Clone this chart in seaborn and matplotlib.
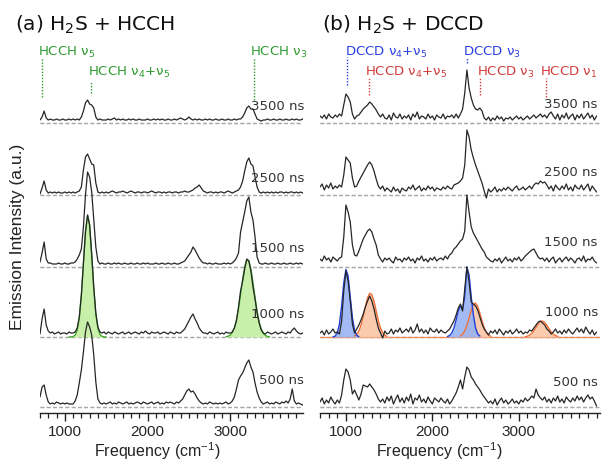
import numpy as np
import pandas as pd
import matplotlib
matplotlib.use("Agg")
import matplotlib.pyplot as plt
from matplotlib.ticker import MultipleLocator
import seaborn as sns

# ---------------- data ----------------
FREQ = np.arange(700, 3901, 25)          # frequency grid (cm-1), 129 points
DELAYS = ["500 ns", "1000 ns", "1500 ns", "2500 ns", "3500 ns"]

# (a) H2S + HCCH
A500 = [10, 20, 22, 12, 5, 3, 4, 3,
        5, 4, 3, 4, 3, 4, 3, 3,
        3, 6, 12, 24, 37, 55, 75, 85,
        80, 72, 52, 25, 8, 4, 3, 4,
        3, 4, 5, 3, 4, 3, 5, 4,
        3, 4, 5, 3, 4, 3, 4, 5,
        4, 3, 5, 4, 3, 4, 5, 3,
        4, 5, 3, 4, 3, 5, 4, 5,
        4, 3, 5, 4, 6, 8, 12, 16,
        18, 15, 16, 13, 9, 6, 4, 3,
        4, 3, 5, 4, 3, 4, 3, 4,
        3, 4, 5, 3, 4, 6, 10, 18,
        27, 31, 34, 39, 44, 47, 40, 35,
        24, 15, 9, 5, 3, 4, 5, 3,
        4, 3, 5, 4, 3, 5, 4, 6,
        4, 8, 18, 6, 3, 4, 3, 2,
        2]
A1000 = [3, 18, 28, 12, 6, 4, 5, 3,
         4, 5, 3, 4, 4, 3, 5, 4,
         4, 5, 9, 20, 42, 74, 105, 122,
         112, 83, 50, 24, 10, 5, 4, 5,
         3, 5, 4, 3, 5, 4, 3, 4,
         5, 3, 4, 5, 3, 4, 5, 4,
         3, 5, 4, 6, 4, 3, 5, 4,
         4, 5, 3, 4, 5, 4, 3, 5,
         4, 3, 5, 4, 4, 6, 8, 12,
         16, 20, 23, 18, 14, 9, 6, 4,
         4, 3, 5, 4, 3, 4, 5, 3,
         4, 3, 5, 4, 4, 5, 9, 16,
         30, 46, 56, 68, 78, 76, 66, 50,
         38, 24, 14, 7, 4, 3, 5, 4,
         3, 4, 5, 3, 4, 5, 4, 3,
         5, 4, 7, 9, 6, 4, 3, 4,
         4]
A1500 = [5, 14, 25, 8, 4, 4, 3, 3,
         3, 4, 3, 3, 4, 3, 3, 4,
         4, 5, 8, 12, 18, 40, 72, 95,
         90, 75, 48, 20, 6, 3, 4, 3,
         3, 4, 3, 3, 4, 3, 4, 3,
         3, 4, 3, 3, 4, 3, 3, 4,
         3, 3, 4, 3, 4, 3, 3, 3,
         4, 3, 3, 4, 3, 3, 4, 3,
         3, 4, 3, 3, 4, 5, 6, 9,
         12, 15, 20, 17, 13, 9, 6, 4,
         4, 3, 4, 3, 3, 4, 3, 3,
         3, 4, 3, 4, 3, 4, 6, 9,
         14, 35, 45, 55, 66, 70, 55, 47,
         30, 10, 4, 3, 3, 4, 3, 3,
         4, 3, 3, 4, 3, 3, 4, 3,
         3, 4, 3, 3, 4, 3, 4, 3,
         3]
A2500 = [1, 7, 14, 5, 2, 3, 2, 3,
         2, 3, 2, 2, 3, 2, 3, 2,
         3, 2, 3, 4, 8, 25, 38, 41,
         36, 31, 30, 12, 3, 2, 3, 2,
         3, 2, 3, 4, 3, 2, 3, 3,
         4, 3, 2, 3, 4, 3, 2, 3,
         3, 2, 3, 3, 2, 3, 4, 3,
         2, 3, 3, 2, 3, 2, 3, 3,
         2, 3, 3, 2, 3, 3, 4, 3,
         3, 4, 5, 7, 8, 10, 7, 4,
         3, 2, 3, 3, 2, 3, 2, 3,
         3, 2, 3, 4, 3, 2, 3, 4,
         5, 8, 14, 24, 33, 37, 31, 29,
         18, 8, 3, 2, 3, 2, 3, 2,
         3, 2, 3, 2, 3, 3, 2, 3,
         2, 3, 3, 2, 3, 2, 3, 2,
         3]
A3500 = [3, 6, 12, 5, 3, 4, 3, 3,
         4, 3, 3, 4, 3, 3, 4, 3,
         4, 3, 4, 3, 6, 12, 20, 23,
         19, 18, 15, 6, 3, 4, 3, 3,
         3, 4, 3, 4, 5, 3, 4, 3,
         4, 3, 3, 4, 3, 4, 3, 3,
         4, 3, 3, 3, 4, 3, 3, 4,
         3, 4, 3, 4, 3, 3, 4, 3,
         3, 4, 3, 4, 5, 4, 3, 4,
         6, 4, 3, 4, 3, 4, 3, 3,
         4, 3, 4, 3, 3, 4, 3, 3,
         4, 3, 3, 4, 3, 3, 4, 3,
         4, 4, 6, 10, 15, 17, 14, 14,
         9, 4, 3, 2, 3, 3, 4, 3,
         3, 4, 3, 3, 4, 3, 3, 4,
         3, 3, 4, 3, 4, 3, 3, 4,
         3]

# (b) H2S + DCCD
B500 = [5, 9, 3, 7, 4, 10, 6, 3,
        7, 4, 12, 27, 38, 35, 27, 13,
        17, 12, 7, 13, 22, 21, 20, 23,
        20, 17, 13, 8, 5, 8, 4, 10,
        6, 11, 3, 8, 12, 5, 9, 4,
        10, 6, 13, 3, 9, 7, 12, 5,
        8, 4, 10, 6, 3, 9, 7, 5,
        9, 6, 4, 8, 3, 6, 10, 14,
        20, 27, 18, 30, 40, 37, 30, 27,
        23, 20, 17, 13, 10, 7, 4, 6,
        3, 8, 2, 6, 9, 4, 7, 3,
        5, 8, 4, 6, 3, 7, 5, 9,
        6, 8, 11, 9, 18, 12, 9, 7,
        10, 5, 8, 4, 9, 6, 11, 5,
        8, 4, 10, 7, 5, 9, 6, 11,
        7, 10, 5, 9, 12, 8, 10, 6,
        1]
B1000 = [4, 6, 2, 7, 3, 5, 8, 4,
         5, 3, 16, 46, 66, 56, 36, 13,
         4, 8, 12, 17, 23, 30, 36, 41,
         36, 28, 18, 9, 4, -1, 6, 3,
         4, 8, 3, 7, 5, 9, 4, 6,
         8, 5, 10, 4, 7, 13, 5, 8,
         4, 7, 3, 9, 6, 5, 8, 4,
         7, 5, 4, 6, 8, 12, 16, 22,
         29, 33, 26, 48, 70, 55, 35, 33,
         31, 27, 20, 13, 8, 5, 2, 6,
         4, 7, 3, 8, 5, 2, 6, 4,
         7, 3, 5, 8, 4, 6, 3, 5,
         4, 7, 6, 9, 12, 15, 16, 14,
         12, 8, 6, 3, 5, 8, 4, 6,
         3, 7, 4, 8, 5, 3, 6, 9,
         5, 8, 4, 10, 6, 3, 7, 2,
         5]
B1500 = [8, 6, 11, 7, 9, 5, 10, 8,
         6, 9, 10, 30, 62, 55, 45, 22,
         12, 11, 16, 22, 28, 32, 36, 38,
         35, 28, 22, 12, 8, 5, 9, 7,
         9, 6, 4, 10, 7, 8, 5, 9,
         7, 10, 6, 8, 4, 9, 7, 11,
         6, 8, 5, 9, 7, 10, 6, 8,
         9, 7, 11, 8, 12, 14, 18, 20,
         23, 26, 28, 36, 72, 55, 40, 34,
         30, 26, 22, 18, 15, 10, 8, 6,
         5, 8, 6, 9, 4, 7, 10, 6,
         8, 5, 9, 7, 10, 6, 8, 11,
         13, 15, 17, 18, 14, 10, 8, 9,
         6, 9, 5, 8, 10, 4, 7, 9,
         5, 8, 10, 6, 9, 7, 4, 8,
         9, 6, 11, 5, 8, 7, 10, 6,
         4]
B2500 = [8, 11, 5, 10, 7, 12, 6, 9,
         7, 10, 8, 20, 38, 35, 32, 17,
         8, 9, 14, 18, 22, 26, 30, 33,
         30, 24, 16, 9, 6, 9, 4, 7,
         5, 3, 8, 4, 6, 2, 7, 5,
         4, 8, 6, 10, 5, 7, 9, 4,
         7, 5, 9, 6, 8, 4, 7, 6,
         5, 8, 6, 9, 7, 6, 10, 11,
         12, 14, 17, 30, 65, 58, 45, 37,
         30, 24, 18, 12, 4, -3, 6, 3,
         5, 8, 3, 6, 4, 7, 5, 8,
         6, 4, 7, 9, 5, 6, 8, 5,
         7, 9, 6, 10, 12, 11, 14, 12,
         13, 10, 6, 9, 4, 10, 7, 5,
         9, 6, 11, 5, 8, 4, 10, 7,
         6, 10, 5, 8, 11, 4, 9, 6,
         3]
B3500 = [7, 5, 8, 4, 9, 6, 5, 8,
         6, 9, 7, 18, 29, 26, 21, 9,
         4, 7, 8, 11, 14, 16, 18, 21,
         19, 16, 13, 9, 6, 9, 5, 4,
         8, 3, 10, 6, 5, 9, 4, 7,
         5, 8, 3, 9, 6, 11, 4, 7,
         6, 4, 9, 5, 7, 3, 8, 6,
         5, 9, 4, 7, 6, 8, 5, 9,
         5, 9, 14, 30, 53, 35, 25, 18,
         14, 13, 15, 12, 5, 3, 6, 2,
         5, 3, 7, 4, 6, 2, 5, 4,
         6, 3, 5, 7, 4, 6, 3, 5,
         7, 4, 6, 8, 5, 7, 9, 6,
         8, 5, 9, 11, 7, 4, 9, 3,
         8, 5, 10, 4, 7, 9, 3, 8,
         5, 9, 4, 7, 10, 5, 8, 3,
         7]

# fitted band profiles (1000 ns traces), each on its own 25 cm-1 grid
GREEN1_START, GREEN1 = 1050, [0, 0.1, 0.4, 1.9, 6.6, 18.5, 41.4, 74, 106, 121.8, 112, 82,
                              48.5, 22.9, 8.6, 2.6, 0.6, 0.1, 0]
GREEN2_START, GREEN2 = 2950, [0.3, 0.8, 1.9, 4.4, 9, 16.8, 28, 42.4, 57.5, 70.3, 77.3, 76.5,
                              68, 54.6, 39.4, 25.6, 15, 7.9, 3.7, 1.6, 0.6, 0.2]
BLUE1_START, BLUE1 = 850, [0.1, 0.9, 3.9, 13, 31, 54, 67.6, 61, 40, 19.2, 6.6, 1.6, 0.3]
BLUE2_START, BLUE2 = 2175, [0.5, 1.5, 4, 9, 17, 26, 31, 28, 40, 70, 62, 40, 22, 9, 3, 1]
ORANGE1_START, ORANGE1 = 1100, [1.0, 2.6, 6.0, 11.8, 20.3, 30.3, 39.1, 43.8, 42.4, 35.6, 25.9,
                                16.3, 8.9, 4.2, 1.7, 0.6]
ORANGE2_START, ORANGE2 = 2325, [1.1, 2.8, 6.2, 11.7, 19, 26.8, 32.4, 33.9, 30.6, 23.8, 15.9,
                                9.2, 4.6, 2.0, 0.7]
ORANGE3_START, ORANGE3 = 3075, [0.3, 0.8, 1.9, 3.7, 6.4, 9.7, 13, 15.4, 16, 14.6, 11.8, 8.3,
                                5.2, 2.9, 1.4, 0.6]

# band assignments
A_MARKS = [("HCCH $\\nu_5$", 730), ("HCCH $\\nu_4$+$\\nu_5$", 1320), ("HCCH $\\nu_3$", 3282)]
B_MARKS = [("DCCD $\\nu_4$+$\\nu_5$", 1010), ("DCCD $\\nu_3$", 2402),
           ("HCCD $\\nu_4$+$\\nu_5$", 1262), ("HCCD $\\nu_3$", 2548), ("HCCD $\\nu_1$", 3310)]

# ---------------- layout / style ----------------
OFFSETS = [0, 70, 140, 212, 284]
GAP_A = [27, 22, 18, 17, 16]
GAP_B = [25, 24, 24, 23, 19]

sns.set_theme(style="white")
plt.rcParams["font.family"] = ["DejaVu Sans"]
plt.rcParams["mathtext.fontset"] = "dejavusans"
plt.rcParams["mathtext.default"] = "regular"

W, H = 602, 462
fig = plt.figure(figsize=(W / 100, H / 100), dpi=100)
fig.patch.set_facecolor("white")

GREEN_T, BLUE_T, RED_T = "#2e9a2e", "#2a3fe0", "#d23a3a"
TRACE = "#262626"


def long_frame(traces):
    rows = []
    for name, vals, off in zip(DELAYS, traces, OFFSETS):
        rows.append(pd.DataFrame({"freq": FREQ, "y": np.asarray(vals, float) + off, "delay": name}))
    return pd.concat(rows, ignore_index=True)


def band(ax, start, vals, off, face, edge, alpha=1.0):
    f = start + 25 * np.arange(len(vals))
    v = np.asarray(vals, float) + off
    ax.fill_between(f, off, v, color=face, lw=0, alpha=alpha, zorder=2)
    ax.plot(f, v, color=edge, lw=1.0, zorder=3)


def setup(ax, xmax):
    ax.set_xlim(700, xmax)
    ax.set_ylim(-6, 372)
    for s in ("left", "right", "top"):
        ax.spines[s].set_visible(False)
    ax.spines["bottom"].set_color("#222222")
    ax.spines["bottom"].set_linewidth(1.0)
    ax.set_yticks([])
    ax.set_xticks([1000, 2000, 3000])
    ax.xaxis.set_minor_locator(MultipleLocator(100))
    ax.tick_params(axis="x", which="major", direction="out", length=6, width=1.0,
                   color="#222222", labelsize=11, pad=3, bottom=True)
    ax.tick_params(axis="x", which="minor", direction="out", length=3.5, width=0.9,
                   color="#222222", bottom=True)
    for lab in ax.get_xticklabels():
        lab.set_family("Liberation Sans")
    ax.set_xlabel("")
    ax.set_ylabel("")
    for off in OFFSETS:
        ax.axhline(off, color="#a8a8a8", lw=0.9, ls=(0, (3, 2)), zorder=1)


# panel (a)
axa = fig.add_axes([40 / W, (H - 413) / H, 263 / W, 378 / H])
setup(axa, 3880)
band(axa, GREEN1_START, GREEN1, OFFSETS[1], "#c8f0aa", "#44aa2c")
band(axa, GREEN2_START, GREEN2, OFFSETS[1], "#c8f0aa", "#44aa2c")
sns.lineplot(data=long_frame([A500, A1000, A1500, A2500, A3500]), x="freq", y="y",
             units="delay", estimator=None, color=TRACE, lw=0.9, ax=axa, legend=False, zorder=4)
setup(axa, 3880)

# panel (b)
axb = fig.add_axes([320 / W, (H - 413) / H, 280 / W, 378 / H])
setup(axb, 3940)
axb.axhline(OFFSETS[1], color="#f08a5a", lw=0.9, zorder=2)
band(axb, ORANGE1_START, ORANGE1, OFFSETS[1], "#fbc6a6", "#f0703a", 0.9)
band(axb, ORANGE2_START, ORANGE2, OFFSETS[1], "#fbc6a6", "#f0703a", 0.9)
band(axb, ORANGE3_START, ORANGE3, OFFSETS[1], "#fbc6a6", "#f0703a", 0.9)
band(axb, BLUE1_START, BLUE1, OFFSETS[1], "#93b0f3", "#1f3fd8", 0.85)
band(axb, BLUE2_START, BLUE2, OFFSETS[1], "#93b0f3", "#1f3fd8", 0.85)
sns.lineplot(data=long_frame([B500, B1000, B1500, B2500, B3500]), x="freq", y="y",
             units="delay", estimator=None, color=TRACE, lw=0.9, ax=axb, legend=False, zorder=4)
setup(axb, 3940)

# delay labels
for ax, gaps, xa in ((axa, GAP_A, 1.005), (axb, GAP_B, 0.992)):
    tr = matplotlib.transforms.blended_transform_factory(ax.transAxes, ax.transData)
    for name, off, g in zip(DELAYS, OFFSETS, gaps):
        ax.text(xa, off + g, name, transform=tr, ha="right", va="center",
                fontsize=9.5, color="#333333", clip_on=False, zorder=5)

# band assignment marks
def mark(ax, label, x, ty, y0, y1, color, tx):
    ax.plot([x, x], [y0, y1], color=color, lw=1.0, ls=(0, (1, 1.2)), zorder=3, clip_on=False)
    ax.text(tx, ty, label, color=color, fontsize=9.5, ha="left", va="center", clip_on=False)

mark(axa, A_MARKS[0][0], A_MARKS[0][1], 355, 310, 349, GREEN_T, 680)
mark(axa, A_MARKS[1][0], A_MARKS[1][1], 335, 314, 325, GREEN_T, 1285)
mark(axa, A_MARKS[2][0], A_MARKS[2][1], 355, 307, 349, GREEN_T, 3245)

mark(axb, B_MARKS[0][0], B_MARKS[0][1], 355, 322, 350, BLUE_T, 990)
mark(axb, B_MARKS[1][0], B_MARKS[1][1], 355, 344, 349, BLUE_T, 2360)
mark(axb, B_MARKS[2][0], B_MARKS[2][1], 335, 312, 329, RED_T, 1224)
mark(axb, B_MARKS[3][0], B_MARKS[3][1], 335, 312, 329, RED_T, 2520)
mark(axb, B_MARKS[4][0], B_MARKS[4][1], 335, 310, 329, RED_T, 3250)

# titles and axis labels
fig.text(15 / W, 1 - 25 / H, "(a) H$_2$S + HCCH", fontsize=14.5, ha="left", va="center", color="#111111")
fig.text(322 / W, 1 - 25 / H, "(b) H$_2$S + DCCD", fontsize=14.5, ha="left", va="center", color="#111111")
fig.text(18 / W, 1 - 237 / H, "Emission Intensity (a.u.)", rotation=90, ha="center", va="center",
         fontsize=12.5, family="Liberation Sans", color="#222222")
fig.text(157 / W, 1 - 451 / H, "Frequency (cm$^{-1}$)", ha="center", va="center",
         fontsize=11.5, family="Liberation Sans", color="#222222")
fig.text(439 / W, 1 - 451 / H, "Frequency (cm$^{-1}$)", ha="center", va="center",
         fontsize=11.5, family="Liberation Sans", color="#222222")

fig.savefig("out.png", dpi=100, facecolor="white")
